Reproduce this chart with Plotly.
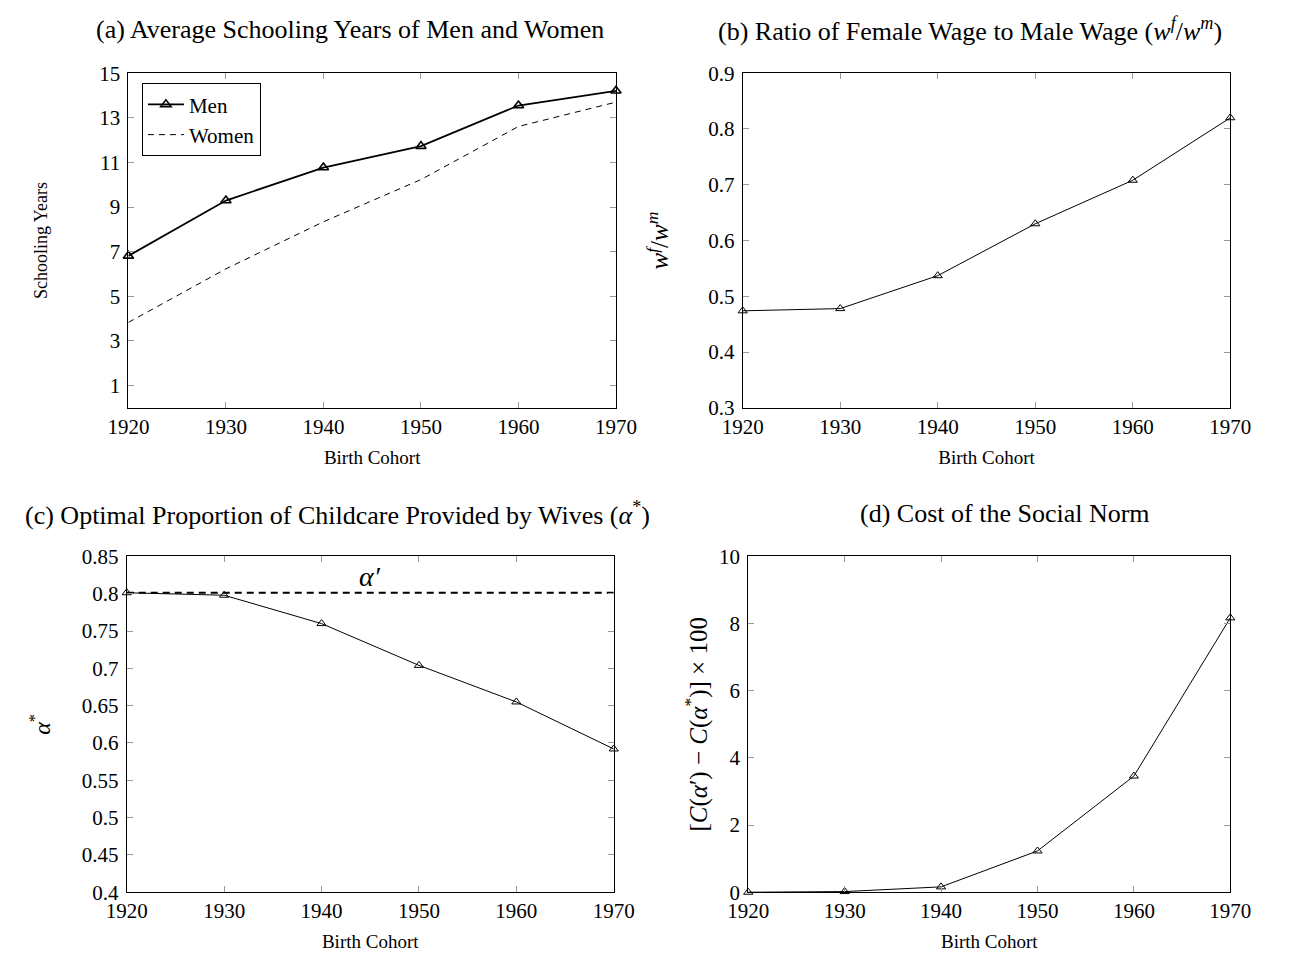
import plotly.graph_objects as go

# Birth cohorts shared by all four panels
cohorts = [1920, 1930, 1940, 1950, 1960, 1970]

# (a) Average schooling years
men_school = [6.81, 9.29, 10.77, 11.73, 13.55, 14.21]
women_school = [3.83, 6.23, 8.34, 10.23, 12.61, 13.70]

# (b) Ratio of female to male wage
wage_ratio = [0.474, 0.478, 0.537, 0.630, 0.708, 0.820]

# (c) Optimal share of childcare provided by wives, and the social norm alpha'
alpha_star = [0.8013, 0.798, 0.760, 0.704, 0.655, 0.592]
alpha_norm = 0.8013

# (d) Cost of the social norm (x100)
norm_cost = [0.0, 0.02, 0.16, 1.23, 3.46, 8.17]

FONT = "Liberation Serif"
W, H = 1290, 965

def px_x(a, b):
    return [a / W, b / W]

def px_y(top, bottom):
    return [1 - bottom / H, 1 - top / H]

fig = go.Figure()

tri = dict(symbol="triangle-up-open", size=8, color="black", line=dict(width=1, color="black"))

# panel (a)
fig.add_trace(go.Scatter(x=cohorts, y=men_school, name="Men", mode="lines+markers",
                         line=dict(color="black", width=1.8),
                         marker=dict(symbol="triangle-up-open", size=9, color="black",
                                     line=dict(width=1.6, color="black")),
                         xaxis="x", yaxis="y", cliponaxis=False))
fig.add_trace(go.Scatter(x=cohorts, y=women_school, name="Women", mode="lines",
                         line=dict(color="black", width=1, dash="6px,5px"),
                         xaxis="x", yaxis="y", cliponaxis=False))
# panel (b)
fig.add_trace(go.Scatter(x=cohorts, y=wage_ratio, mode="lines+markers", showlegend=False,
                         line=dict(color="black", width=1), marker=tri,
                         xaxis="x2", yaxis="y2", cliponaxis=False))
# panel (c)
fig.add_trace(go.Scatter(x=[cohorts[0], cohorts[-1]], y=[alpha_norm, alpha_norm], mode="lines",
                         showlegend=False, line=dict(color="black", width=1.8, dash="7px,5px"),
                         xaxis="x3", yaxis="y3", cliponaxis=False))
fig.add_trace(go.Scatter(x=cohorts, y=alpha_star, mode="lines+markers", showlegend=False,
                         line=dict(color="black", width=1), marker=tri,
                         xaxis="x3", yaxis="y3", cliponaxis=False))
# panel (d)
fig.add_trace(go.Scatter(x=cohorts, y=norm_cost, mode="lines+markers", showlegend=False,
                         line=dict(color="black", width=1), marker=tri,
                         xaxis="x4", yaxis="y4", cliponaxis=False))

tickfont = dict(family=FONT, size=21, color="black")

def xax(domain, anchor):
    return dict(domain=domain, anchor=anchor, range=[1920, 1970],
                tickvals=cohorts, ticktext=[str(c) for c in cohorts],
                ticks="inside", ticklen=6, tickcolor="#999999", tickwidth=1,
                showline=True, linecolor="black", linewidth=1, mirror="ticks",
                showgrid=False, zeroline=False, tickfont=tickfont, ticklabelstandoff=0,
                title=dict(text="Birth Cohort", font=dict(family=FONT, size=19, color="black"),
                           standoff=12))

def yax(domain, anchor, rng, vals, title, size, standoff):
    return dict(domain=domain, anchor=anchor, range=rng, tickvals=vals,
                ticktext=["%g" % v for v in vals],
                ticks="inside", ticklen=6, tickcolor="#999999", tickwidth=1,
                showline=True, linecolor="black", linewidth=1, mirror="ticks",
                showgrid=False, zeroline=False, tickfont=tickfont, ticklabelstandoff=3,
                title=dict(text=title, font=dict(family=FONT, size=size, color="black"),
                           standoff=standoff))

ya = [1, 3, 5, 7, 9, 11, 13, 15]
yb = [0.3, 0.4, 0.5, 0.6, 0.7, 0.8, 0.9]
yc = [0.4, 0.45, 0.5, 0.55, 0.6, 0.65, 0.7, 0.75, 0.8, 0.85]
yd = [0, 2, 4, 6, 8, 10]

top_row = px_y(62.7, 406)
bot_row = px_y(558.3, 902.7)

fig.update_layout(
    width=W, height=H, margin=dict(l=0, r=0, t=0, b=0),
    paper_bgcolor="white", plot_bgcolor="white",
    font=dict(family=FONT, color="black"),
    xaxis=xax(px_x(111, 615), "y"),
    yaxis=yax(top_row, "x", [0, 15], ya, "Schooling Years", 18, 46),
    xaxis2=xax(px_x(746, 1250), "y2"),
    yaxis2=yax(top_row, "x2", [0.3, 0.9], yb,
               "<i>w<sup>f</sup></i>/<i>w<sup>m</sup></i>", 25, 32),
    xaxis3=xax(px_x(109.3, 612.7), "y3"),
    yaxis3=yax(bot_row, "x3", [0.4, 0.85], yc, "<i>α</i><sup>*</sup>", 24, 24),
    xaxis4=xax(px_x(751.7, 1250), "y4"),
    yaxis4=yax(bot_row, "x4", [0, 10], yd,
               "[<i>C</i>(<i>α</i>′) − <i>C</i>(<i>α</i><sup>*</sup>)] × 100", 25, 4),
    legend=dict(x=125 / W, y=1 - 73 / H, xanchor="left", yanchor="top",
                bgcolor="white", bordercolor="black", borderwidth=1,
                font=dict(family=FONT, size=21, color="black"),
                tracegroupgap=0, itemwidth=36),
    showlegend=True,
)

titles = [
    ("(a) Average Schooling Years of Men and Women", 340, 18),
    ("(b) Ratio of Female Wage to Male Wage (<i>w<sup>f</sup></i>/<i>w<sup>m</sup></i>)", 981, 18),
    ("(c) Optimal Proportion of Childcare Provided by Wives (<i>α</i><sup>*</sup>)", 327, 514),
    ("(d) Cost of the Social Norm", 1017, 514),
]
for text, cx, cy in titles:
    fig.add_annotation(text=text, x=cx / W, y=1 - cy / H, xref="paper", yref="paper",
                       xanchor="center", yanchor="middle", showarrow=False,
                       font=dict(family=FONT, size=26, color="black"))

fig.add_annotation(text="<i>α′</i>", x=1945, y=0.823, xref="x3", yref="y3",
                   showarrow=False, font=dict(family=FONT, size=28, color="black"))

fig.write_html("out.html")
